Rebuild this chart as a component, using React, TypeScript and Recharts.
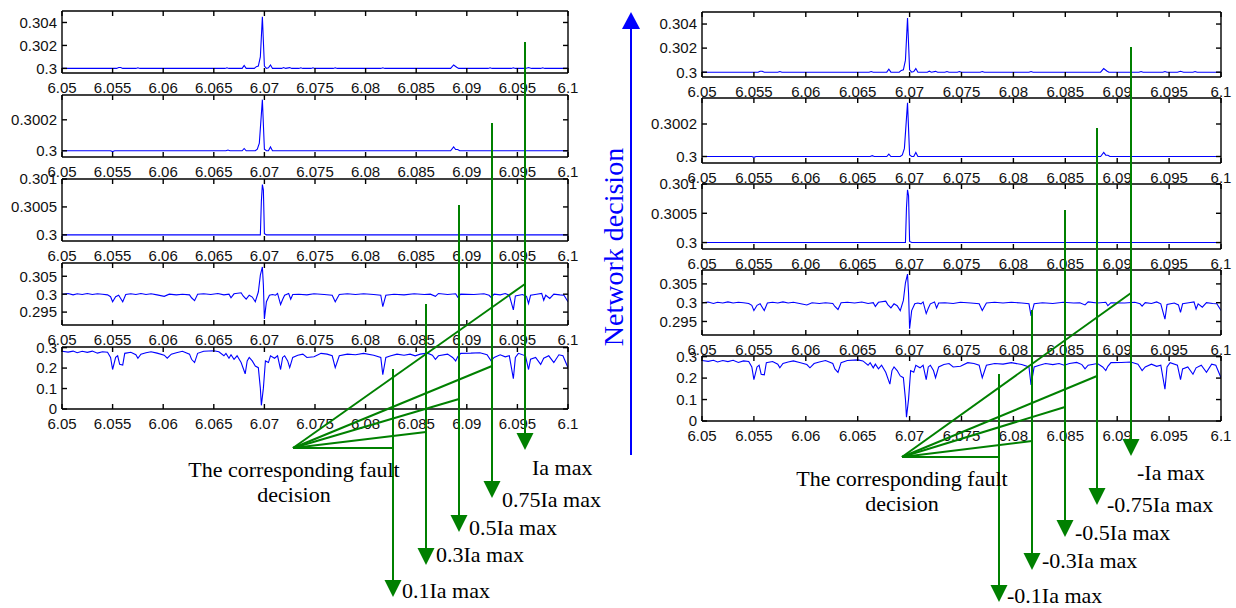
import { Line, LineChart, XAxis, YAxis } from 'recharts';

// time axis shared by all ten panels
const TIME_TICKS = [6.05, 6.055, 6.06, 6.065, 6.07, 6.075, 6.08, 6.085, 6.09, 6.095, 6.1];
const TIME_LABELS = ['6.05', '6.055', '6.06', '6.065', '6.07', '6.075', '6.08', '6.085', '6.09', '6.095', '6.1'];

// per-panel y ticks
const Y1_TICKS = [0.3, 0.302, 0.304];
const Y1_LABELS = ['0.3', '0.302', '0.304'];
const Y2_TICKS = [0.3, 0.3002];
const Y2_LABELS = ['0.3', '0.3002'];
const Y3_TICKS = [0.3, 0.3005, 0.301];
const Y3_LABELS = ['0.3', '0.3005', '0.301'];
const Y4_TICKS = [0.295, 0.3, 0.305];
const Y4_LABELS = ['0.295', '0.3', '0.305'];
const Y5_TICKS = [0, 0.1, 0.2, 0.3];
const Y5_LABELS = ['0', '0.1', '0.2', '0.3'];

// [time, value]
const SPIKE_IA: [number, number][] = [
  [6.05, 0.3], [6.0554, 0.3], [6.0556, 0.30008], [6.0558, 0.30008], [6.056, 0.3],
  [6.0573, 0.3], [6.0575, 0.30006], [6.0577, 0.3], [6.0661, 0.3], [6.0663, 0.30005],
  [6.0665, 0.3], [6.0678, 0.3], [6.068, 0.30025], [6.0682, 0.3], [6.069, 0.3],
  [6.0692, 0.30015], [6.0694, 0.3002], [6.0696, 0.301], [6.0698, 0.3045], [6.07, 0.3002],
  [6.0702, 0.3], [6.0704, 0.30005], [6.0706, 0.3003], [6.0708, 0.3], [6.0717, 0.3],
  [6.0719, 0.30008], [6.0721, 0.3], [6.0725, 0.30007], [6.0727, 0.3], [6.0734, 0.3],
  [6.0736, 0.30005], [6.0738, 0.3], [6.0746, 0.3], [6.0748, 0.30006], [6.075, 0.3],
  [6.0768, 0.3], [6.077, 0.00006 + 0.3], [6.0772, 0.3], [6.0815, 0.3], [6.0817, 0.30005],
  [6.0819, 0.3], [6.0884, 0.3], [6.0887, 0.3003], [6.089, 0.3001], [6.0892, 0.3],
  [6.0921, 0.3], [6.0923, 0.30006], [6.0925, 0.3], [6.0944, 0.3], [6.0946, 0.30006],
  [6.0948, 0.3], [6.0958, 0.3], [6.0961, 0.30008], [6.0964, 0.3], [6.0973, 0.3],
  [6.0975, 0.30006], [6.0977, 0.3], [6.1, 0.3],
];

const SPIKE_075: [number, number][] = [
  [6.05, 0.3], [6.0548, 0.3], [6.055, 0.299995], [6.0552, 0.3], [6.0662, 0.3],
  [6.0664, 0.300005], [6.0666, 0.3], [6.0678, 0.3], [6.068, 0.000015 + 0.3], [6.0682, 0.3],
  [6.0691, 0.3], [6.0693, 0.30001], [6.0695, 0.30005], [6.0698, 0.30033], [6.07, 0.30001],
  [6.0702, 0.3], [6.0704, 0.3], [6.0706, 0.300025], [6.0708, 0.3], [6.0884, 0.3],
  [6.0887, 0.300025], [6.0889, 0.300008], [6.0891, 0.300008], [6.0893, 0.3], [6.1, 0.3],
];

const SPIKE_05: [number, number][] = [
  [6.05, 0.3], [6.0696, 0.3], [6.0697, 0.3006], [6.0698, 0.3009], [6.0699, 0.3008],
  [6.07, 0.30002], [6.0702, 0.3], [6.1, 0.3],
];

const RIPPLE_03: [number, number][] = [
  [6.05, 0.3], [6.0506, 0.3002], [6.0511, 0.2998], [6.0515, 0.3001], [6.052, 0.2999],
  [6.0525, 0.3002], [6.053, 0.2999], [6.0535, 0.3001], [6.054, 0.3], [6.0545, 0.2998],
  [6.0548, 0.2993], [6.055, 0.2979], [6.0553, 0.2993], [6.0556, 0.2997], [6.0558, 0.2988],
  [6.056, 0.2979], [6.0563, 0.2999], [6.0568, 0.3001], [6.0573, 0.2999], [6.0578, 0.3002],
  [6.0583, 0.2999], [6.0588, 0.3001], [6.0594, 0.2998], [6.0601, 0.2994], [6.0606, 0.3],
  [6.0613, 0.2998], [6.0619, 0.3], [6.0626, 0.2998], [6.0628, 0.299], [6.0631, 0.2982],
  [6.0634, 0.3], [6.064, 0.3001], [6.0647, 0.2999], [6.0654, 0.3002], [6.066, 0.2998],
  [6.0665, 0.3], [6.0667, 0.299], [6.067, 0.3001], [6.0677, 0.3004], [6.0679, 0.2995],
  [6.0682, 0.2986], [6.0685, 0.2997], [6.0688, 0.2992], [6.0691, 0.2979], [6.0694, 0.3006],
  [6.0696, 0.3053], [6.0698, 0.3076], [6.0699, 0.3025], [6.07, 0.2931], [6.0702, 0.2979],
  [6.0705, 0.2997], [6.0708, 0.2999], [6.0711, 0.2997], [6.0713, 0.3002], [6.0716, 0.2971],
  [6.0718, 0.2985], [6.072, 0.2997], [6.0724, 0.3002], [6.0726, 0.2986], [6.0728, 0.2999],
  [6.0734, 0.3], [6.0742, 0.2998], [6.0749, 0.3001], [6.0759, 0.2999], [6.0767, 0.2997],
  [6.077, 0.2979], [6.0774, 0.2999], [6.0782, 0.3001], [6.079, 0.2999], [6.0798, 0.3001],
  [6.0808, 0.2999], [6.0815, 0.2997], [6.0817, 0.2965], [6.082, 0.2997], [6.0828, 0.3],
  [6.0838, 0.2998], [6.0848, 0.3001], [6.0858, 0.2999], [6.0864, 0.3], [6.0869, 0.2994],
  [6.0872, 0.3002], [6.0881, 0.2999], [6.0889, 0.3001], [6.0891, 0.2992], [6.0894, 0.3],
  [6.0907, 0.2999], [6.0917, 0.3001], [6.0922, 0.2997], [6.0924, 0.2991], [6.0927, 0.3],
  [6.0933, 0.2998], [6.0938, 0.3002], [6.0942, 0.2997], [6.0946, 0.2956], [6.0948, 0.2995],
  [6.0955, 0.2999], [6.0959, 0.2994], [6.0961, 0.2974], [6.0963, 0.2997], [6.0969, 0.3],
  [6.0974, 0.3002], [6.0976, 0.2983], [6.0978, 0.2997], [6.0982, 0.2988], [6.0986, 0.3],
  [6.0992, 0.2998], [6.0996, 0.2997], [6.1, 0.2979],
];

const DIPS_01: [number, number][] = [
  [6.05, 0.282], [6.0506, 0.278], [6.0511, 0.283], [6.0515, 0.275], [6.052, 0.282],
  [6.0525, 0.277], [6.053, 0.283], [6.0535, 0.273], [6.054, 0.28], [6.0545, 0.277],
  [6.0548, 0.252], [6.055, 0.193], [6.0553, 0.252], [6.0555, 0.26], [6.0557, 0.218],
  [6.056, 0.215], [6.0562, 0.272], [6.0568, 0.277], [6.0573, 0.265], [6.0575, 0.248],
  [6.0578, 0.268], [6.0583, 0.275], [6.0588, 0.28], [6.0594, 0.273], [6.0601, 0.263],
  [6.0604, 0.248], [6.0608, 0.268], [6.0613, 0.275], [6.0619, 0.282], [6.0626, 0.268],
  [6.0628, 0.243], [6.0631, 0.227], [6.0634, 0.272], [6.064, 0.282], [6.065, 0.285],
  [6.0655, 0.28], [6.066, 0.26], [6.0662, 0.272], [6.0665, 0.248], [6.0667, 0.265],
  [6.067, 0.243], [6.0673, 0.26], [6.0677, 0.227], [6.0681, 0.172], [6.0683, 0.235],
  [6.0685, 0.252], [6.0688, 0.235], [6.0691, 0.21], [6.0694, 0.202], [6.0696, 0.102],
  [6.0697, 0.018], [6.0699, 0.102], [6.0701, 0.235], [6.0704, 0.227], [6.0706, 0.26],
  [6.071, 0.248], [6.0713, 0.26], [6.0716, 0.193], [6.0718, 0.252], [6.072, 0.26],
  [6.0723, 0.235], [6.0725, 0.202], [6.0728, 0.252], [6.0733, 0.263], [6.0738, 0.268],
  [6.0742, 0.252], [6.0749, 0.255], [6.0756, 0.272], [6.0762, 0.268], [6.0767, 0.26],
  [6.077, 0.202], [6.0774, 0.26], [6.0782, 0.268], [6.079, 0.265], [6.0798, 0.272],
  [6.0808, 0.263], [6.0815, 0.252], [6.0817, 0.168], [6.082, 0.252], [6.0825, 0.26],
  [6.0831, 0.268], [6.0838, 0.263], [6.0844, 0.268], [6.0849, 0.26], [6.0854, 0.268],
  [6.0861, 0.273], [6.0866, 0.263], [6.0869, 0.243], [6.0872, 0.26], [6.0881, 0.268],
  [6.0886, 0.252], [6.0889, 0.235], [6.0891, 0.255], [6.0894, 0.272], [6.0904, 0.273],
  [6.0913, 0.275], [6.092, 0.265], [6.0924, 0.235], [6.0927, 0.252], [6.0933, 0.265],
  [6.0938, 0.255], [6.0942, 0.26], [6.0946, 0.148], [6.0948, 0.252], [6.0951, 0.272],
  [6.0958, 0.26], [6.0961, 0.193], [6.0963, 0.243], [6.0968, 0.252], [6.0973, 0.218],
  [6.0976, 0.248], [6.0981, 0.26], [6.0986, 0.227], [6.0991, 0.265], [6.0995, 0.26],
  [6.1, 0.202],
];

const PANELS = [
  { data: SPIKE_IA, domain: [0.2996, 0.305], ticks: Y1_TICKS, labels: Y1_LABELS },
  { data: SPIKE_075, domain: [0.29996, 0.30036], ticks: Y2_TICKS, labels: Y2_LABELS },
  { data: SPIKE_05, domain: [0.29989, 0.301], ticks: Y3_TICKS, labels: Y3_LABELS },
  { data: RIPPLE_03, domain: [0.2914, 0.3087], ticks: Y4_TICKS, labels: Y4_LABELS },
  { data: DIPS_01, domain: [0, 0.303], ticks: Y5_TICKS, labels: Y5_LABELS },
];

const LEFT_COL = { x: 62, w: 506, h: 62, tops: [11, 95, 179, 263, 347] };
const RIGHT_COL = { x: 702, w: 519, h: 65, tops: [12, 98, 184, 270, 356] };

// annotation arrows: x, line top, arrow tip, label
const LEFT_ARROWS = [
  { x: 525, top: 42, tip: 450, label: 'Ia max', lx: 532, ly: 475, fy: 284 },
  { x: 492, top: 123, tip: 498, label: '0.75Ia max', lx: 502, ly: 507, fy: 366 },
  { x: 459, top: 205, tip: 532, label: '0.5Ia max', lx: 469, ly: 535, fy: 399 },
  { x: 426, top: 304, tip: 565, label: '0.3Ia max', lx: 436, ly: 562, fy: 432 },
  { x: 393, top: 369, tip: 597, label: '0.1Ia max', lx: 402, ly: 598, fy: 448 },
];
const RIGHT_ARROWS = [
  { x: 1131, top: 47, tip: 456, label: '-Ia max', lx: 1137, ly: 480, fy: 293 },
  { x: 1097, top: 128, tip: 505, label: '-0.75Ia max', lx: 1107, ly: 512, fy: 376 },
  { x: 1065, top: 210, tip: 537, label: '-0.5Ia max', lx: 1075, ly: 540, fy: 407 },
  { x: 1032, top: 310, tip: 570, label: '-0.3Ia max', lx: 1042, ly: 568, fy: 441 },
  { x: 999, top: 374, tip: 602, label: '-0.1Ia max', lx: 1007, ly: 603, fy: 457 },
];

const AXIS = { stroke: '#000', strokeWidth: 1.4 };
const TICK = { fontSize: 15, fill: '#111', fontFamily: 'Liberation Sans, Arial, sans-serif' };
const GREEN = '#008000';
const SERIF = 'Liberation Serif, Times New Roman, serif';

function Panel({ panel, x, top, w, h }: any) {
  const rows = panel.data.map(([t, v]: [number, number]) => ({ t, v }));
  const fmtX = (v: number) => TIME_LABELS[TIME_TICKS.indexOf(v)] ?? String(v);
  const fmtY = (v: number) => panel.labels[panel.ticks.indexOf(v)] ?? String(v);
  const blank = () => '';
  return (
    <div style={{ position: 'absolute', left: x - 62, top: top - 10 }}>
      <LineChart width={62 + w + 16} height={10 + h + 28} data={rows} margin={{ top: 9, right: 15, bottom: 0, left: 0 }}>
        <XAxis xAxisId="b" dataKey="t" type="number" domain={[6.05, 6.1]} ticks={TIME_TICKS} interval={0}
          tickFormatter={fmtX} height={28} tickSize={-5} tickMargin={14} axisLine={AXIS} tickLine={AXIS} tick={TICK} allowDataOverflow />
        <XAxis xAxisId="t" orientation="top" dataKey="t" type="number" domain={[6.05, 6.1]} ticks={TIME_TICKS} interval={0}
          tickFormatter={blank} height={1} tickSize={-5} axisLine={AXIS} tickLine={AXIS} tick={TICK} allowDataOverflow />
        <YAxis yAxisId="l" type="number" domain={panel.domain} ticks={panel.ticks} interval={0} tickFormatter={fmtY}
          width={62} tickSize={-5} tickMargin={10} axisLine={AXIS} tickLine={AXIS} tick={TICK} allowDataOverflow />
        <YAxis yAxisId="r" orientation="right" type="number" domain={panel.domain} ticks={panel.ticks} interval={0}
          tickFormatter={blank} width={1} tickSize={-5} axisLine={AXIS} tickLine={AXIS} tick={TICK} allowDataOverflow />
        <Line xAxisId="b" yAxisId="l" type="linear" dataKey="v" stroke="#0000ff" strokeWidth={1.1} dot={false} isAnimationActive={false} />
      </LineChart>
    </div>
  );
}

function Annotations({ arrows, ox, oy, tx, ty }: any) {
  return (
    <g>
      {arrows.map((a: any) => (
        <g key={a.label}>
          <line x1={a.x} y1={a.top} x2={a.x} y2={a.tip - 16} stroke={GREEN} strokeWidth={2} />
          <polygon points={`${a.x - 8.5},${a.tip - 17} ${a.x + 8.5},${a.tip - 17} ${a.x},${a.tip}`} fill={GREEN} />
          <line x1={ox} y1={oy} x2={a.x} y2={a.fy} stroke={GREEN} strokeWidth={2} />
          <text x={a.lx} y={a.ly} fontSize={22} fontFamily={SERIF} fill="#000">{a.label}</text>
        </g>
      ))}
      <text x={tx} y={ty} fontSize={22} fontFamily={SERIF} fill="#000" textAnchor="middle">The corresponding fault</text>
      <text x={tx} y={ty + 25} fontSize={22} fontFamily={SERIF} fill="#000" textAnchor="middle">decision</text>
    </g>
  );
}

export default function App() {
  return (
    <div style={{ position: 'absolute', left: 0, top: 0, width: 1236, height: 608, background: '#fff', overflow: 'hidden' }}>
      {PANELS.map((p, i) => (
        <Panel key={'l' + i} panel={p} x={LEFT_COL.x} top={LEFT_COL.tops[i]} w={LEFT_COL.w} h={LEFT_COL.h} />
      ))}
      {PANELS.map((p, i) => (
        <Panel key={'r' + i} panel={p} x={RIGHT_COL.x} top={RIGHT_COL.tops[i]} w={RIGHT_COL.w} h={RIGHT_COL.h} />
      ))}
      <svg width={1236} height={608} style={{ position: 'absolute', left: 0, top: 0, pointerEvents: 'none' }}>
        <line x1={631} y1={28} x2={631} y2={455} stroke="#0000ff" strokeWidth={2} />
        <polygon points="622,29 640,29 631,12" fill="#0000ff" />
        <text transform="translate(623,247) rotate(-90)" textAnchor="middle" fontSize={28} fontFamily={SERIF} fill="#0000ff">
          Network decision
        </text>
        <Annotations arrows={LEFT_ARROWS} ox={293} oy={448} tx={294} ty={477} />
        <Annotations arrows={RIGHT_ARROWS} ox={902} oy={457} tx={902} ty={486} />
      </svg>
    </div>
  );
}
